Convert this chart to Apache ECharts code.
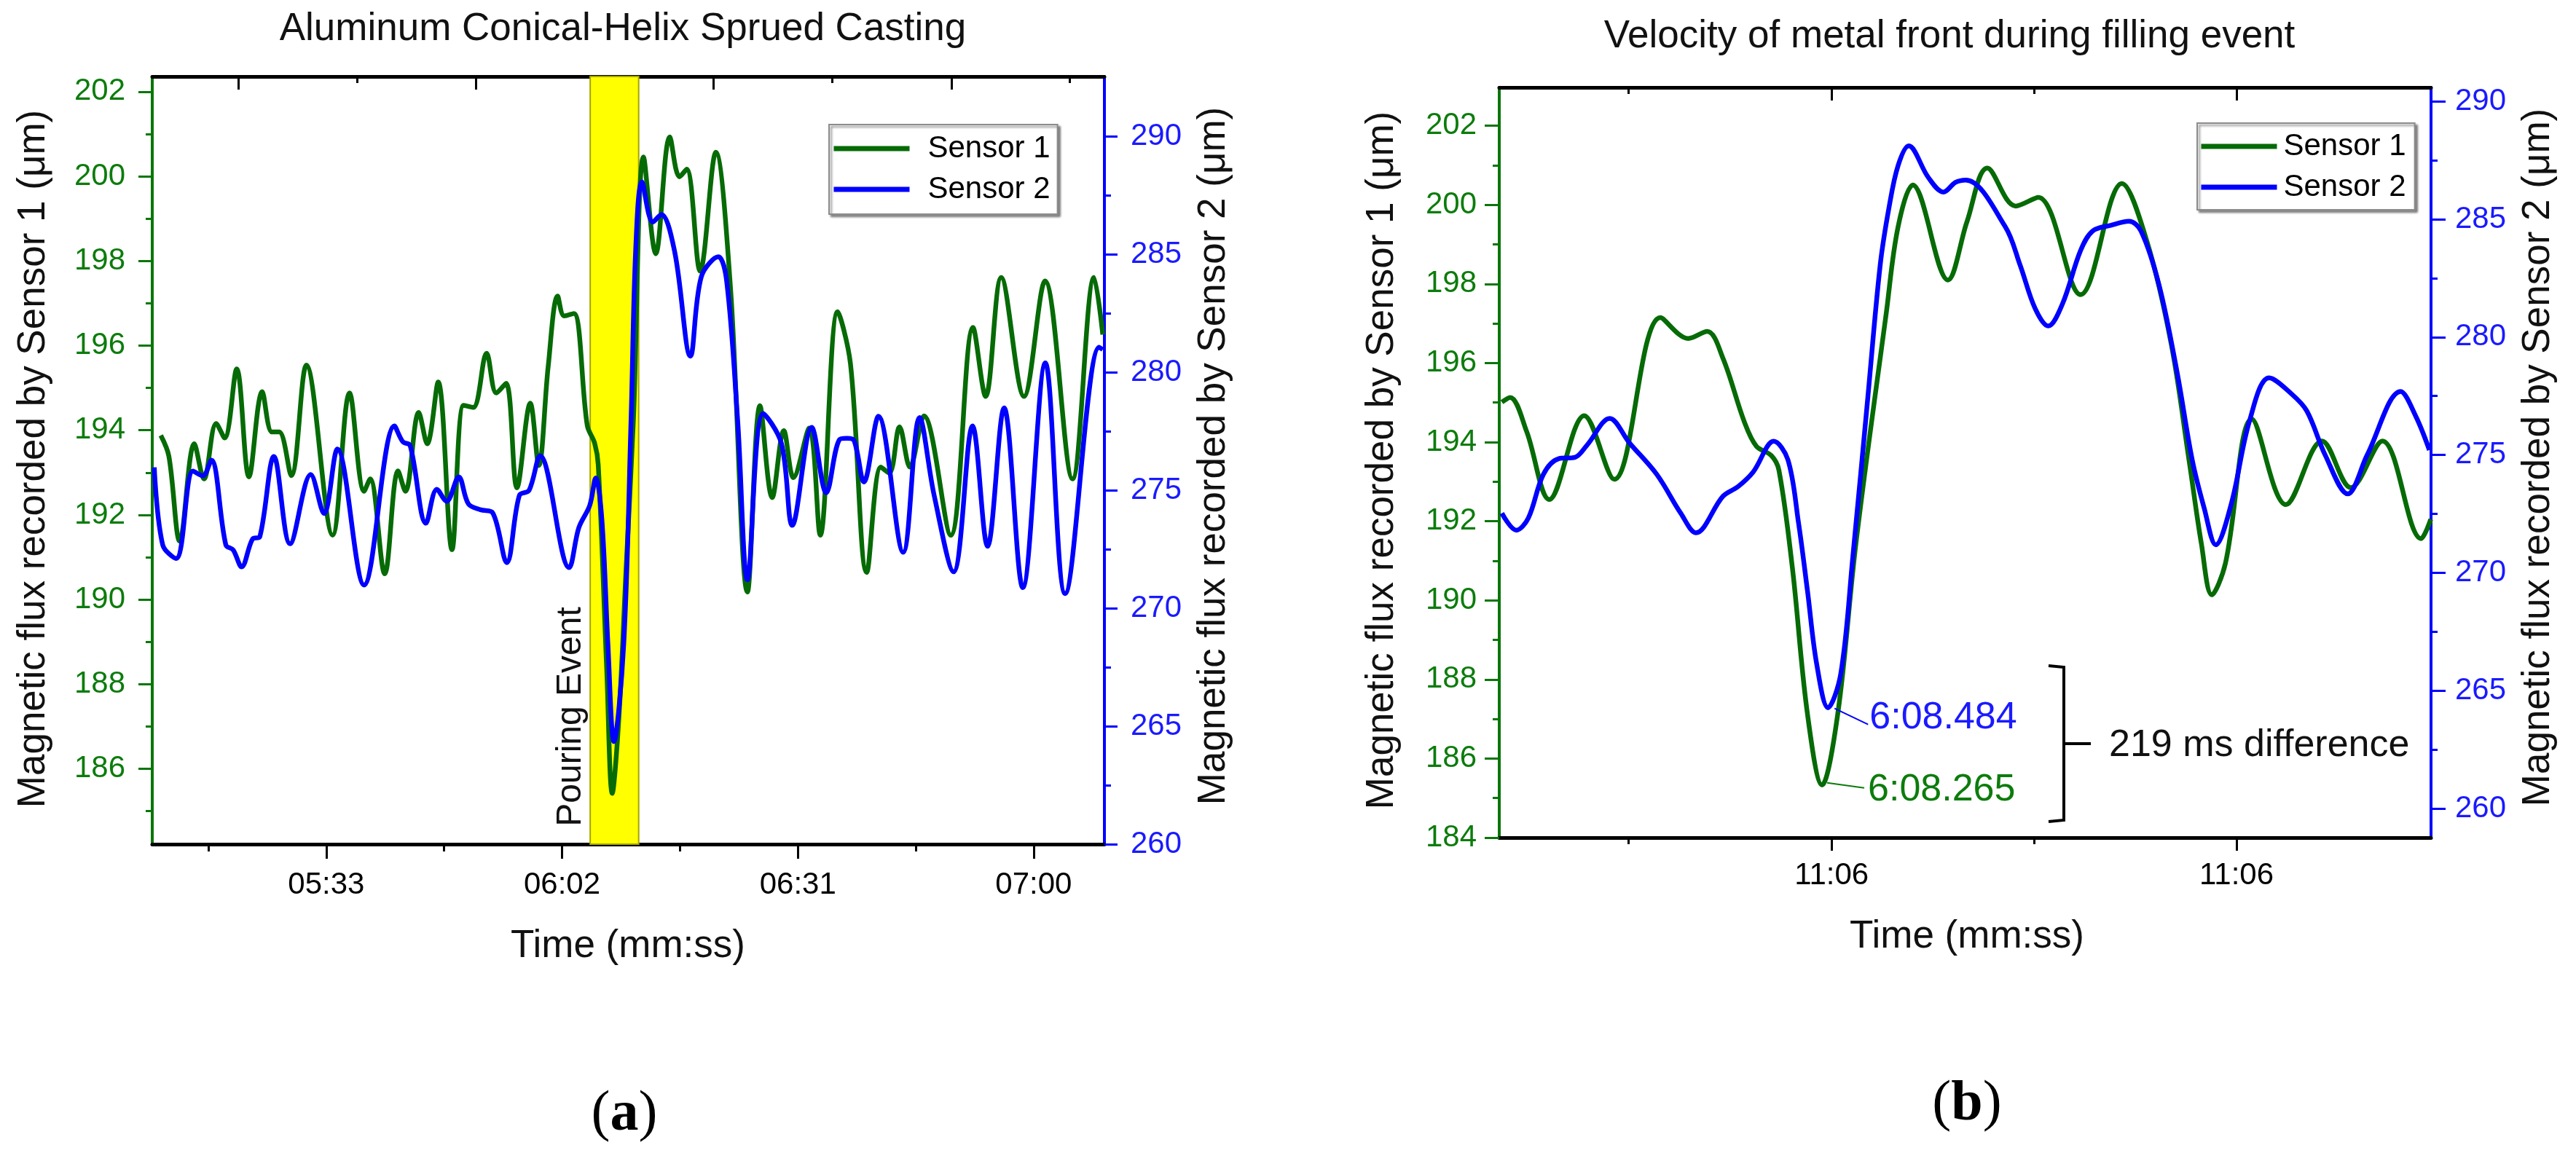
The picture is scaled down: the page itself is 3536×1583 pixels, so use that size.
<!DOCTYPE html>
<html><head><meta charset="utf-8">
<script src="https://cdn.jsdelivr.net/npm/echarts@6/dist/echarts.min.js"></script>
<style>html,body{margin:0;padding:0;background:#fff}#c{width:3536px;height:1583px}</style>
</head><body><div id="c"></div>
<script>
// ---------- DATA ----------
// (a) Sensor 1 (green, left axis), time in seconds
const timeA1 = [312.65,313.64,314.98,316.77,317.96,319.46,320.50,321.99,323.49,325.12,326.31,327.21,328.70,330.56,333.78,335.86,337.65,338.40,340.19,341.83,342.73,344.37,345.41,346.76,348.46,349.89,351.08,352.72,353.92,355.11,356.45,358.09,359.14,360.30,361.46,362.27,363.46,365.10,366.00,366.45,367.49,368.17,368.98,369.87,370.77,372.02,373.52,375.25,376.44,377.33,378.98,380.91,382.70,384.80,386.34,387.84,389.27,390.46,392.40,393.75,395.89,397.47,399.47,401.20,402.25,403.50,404.78,406.51,409.80,412.54,414.09,416.01,418.81,421.40,424.77,427.43,428.50];
const sensor1A = [193.88,193.39,191.38,193.68,192.85,194.16,193.82,195.45,192.90,194.91,193.96,193.96,192.93,195.54,191.52,194.88,192.56,192.85,190.61,193.04,192.56,194.42,193.68,195.14,191.18,194.59,194.54,195.82,194.88,195.11,192.64,194.64,193.17,195.52,197.17,196.70,196.76,194.11,193.70,193.18,188.36,185.42,187.19,190.71,194.23,200.46,198.17,200.93,199.99,200.17,197.76,200.57,197.40,190.18,194.58,192.41,193.99,192.88,194.05,191.52,196.80,195.57,190.64,193.13,192.99,194.08,193.13,194.34,191.52,196.43,194.80,197.61,194.80,197.53,192.85,197.61,196.26];
// (a) Sensor 2 (blue, right axis)
const timeA2 = [311.85,312.89,314.54,316.62,317.81,318.86,320.65,321.54,322.59,323.93,324.83,326.56,328.55,331.09,332.73,334.37,337.65,341.39,342.42,343.32,345.26,346.60,347.80,349.29,350.48,351.98,353.47,355.20,356.75,357.94,359.29,362.87,364.06,365.40,366.14,366.90,367.64,368.38,369.58,370.48,371.07,371.82,373.16,374.20,375.85,377.78,379.12,381.22,382.25,383.60,384.80,386.73,388.97,390.31,392.70,394.49,396.13,397.02,397.92,399.12,400.91,403.95,405.97,407.76,410.15,412.48,414.33,416.36,418.66,421.43,423.87,428.05,428.50];
const sensor2A = [275.97,272.68,272.11,275.81,275.61,276.27,272.68,272.47,271.75,272.93,273.03,276.43,272.73,275.66,274.01,276.74,270.98,277.72,277.05,276.89,273.60,275.04,274.53,275.56,274.42,274.17,274.04,271.93,274.78,274.99,276.46,271.72,273.41,274.35,275.52,273.73,268.46,264.35,268.46,277.93,285.31,288.06,286.36,286.68,285.10,280.68,284.04,284.89,283.84,277.93,271.20,278.25,276.99,273.51,277.66,274.89,277.15,277.20,277.10,275.35,278.13,272.37,278.08,274.78,271.54,277.72,272.62,278.49,270.87,280.39,270.62,281.06,280.96];
// (b) Sensor 1
const timeB1 = [354.70,355.05,355.75,356.71,358.19,359.46,361.42,362.60,363.40,364.07,364.97,365.48,366.12,366.44,367.01,367.65,368.265,368.93,369.70,370.98,371.49,372.11,373.60,374.41,375.27,376.47,377.43,379.22,380.97,382.03,383.06,383.82,384.34,384.78,385.36,386.48,387.92,389.45,390.67,392.01,393.65,394.06];
const sensor1B = [195.01,195.13,194.27,192.55,194.67,193.06,197.15,196.62,196.80,196.12,194.52,193.90,193.66,193.29,190.82,187.12,185.33,187.12,191.43,197.23,199.45,200.50,198.10,199.58,200.93,199.97,200.19,197.73,200.54,199.08,196.49,193.53,191.43,190.14,190.94,194.58,192.42,194.03,192.85,194.03,191.56,192.05];
// (b) Sensor 2
const timeB2 = [354.70,355.31,355.82,356.46,357.10,357.80,358.31,359.27,360.10,361.26,362.28,362.92,364.07,364.71,365.35,366.22,366.82,367.27,367.65,368.04,368.52,369.06,369.57,370.21,370.73,371.11,371.49,371.94,372.77,373.41,373.92,374.36,376.02,376.66,377.30,377.85,378.45,379.22,379.73,380.50,381.27,381.78,382.54,383.31,383.95,384.46,384.95,385.61,386.38,387.21,388.17,388.81,389.58,390.54,391.37,392.78,393.42,394.00];
const sensor2B = [272.53,271.81,272.32,274.18,274.84,274.90,275.42,276.55,275.52,274.18,272.53,271.70,273.25,273.66,274.28,275.58,274.80,272.12,269.23,266.13,264.28,265.72,270.67,277.48,283.05,285.53,287.28,288.11,286.77,286.15,286.56,286.66,284.70,283.05,281.20,280.47,281.40,283.67,284.50,284.74,284.91,284.50,282.23,278.51,274.80,272.74,271.19,272.94,276.45,278.27,277.58,276.86,275.01,273.35,275.01,277.69,276.65,275.21];

const pourEvent = [365.46, 371.42];
// tick values / labels
const xTicksA = [333, 362, 391, 420];
const xTickLabelsA = ['05:33', '06:02', '06:31', '07:00'];
const xMinorA = [318.5, 347.5, 376.5, 405.5];
const xTopTicksA = [322.2, 351.4, 380.6, 409.9];
const xTopMinorA = [336.8, 366.0, 395.2, 424.4];
const xTicksB = [368.67, 385.83];
const xTickLabelsB = ['11:06', '11:06'];
const xMinorB = [360.06, 377.25];
const y1TicksA = [186, 188, 190, 192, 194, 196, 198, 200, 202];
const y1MinorA = [185, 187, 189, 191, 193, 195, 197, 199, 201];
const y2TicksA = [260, 265, 270, 275, 280, 285, 290];
const y2MinorA = [262.5, 267.5, 272.5, 277.5, 282.5, 287.5];
const y1TicksB = [184, 186, 188, 190, 192, 194, 196, 198, 200, 202];
const y1MinorB = [185, 187, 189, 191, 193, 195, 197, 199, 201];
const y2TicksB = [260, 265, 270, 275, 280, 285, 290];
const y2MinorB = [262.5, 267.5, 272.5, 277.5, 282.5, 287.5];
const seriesNames = ['Sensor 1', 'Sensor 2'];
const annotB = ['6:08.265', '6:08.484', '219 ms difference'];

// ---------- STYLE ----------
const FONT = '"Liberation Sans", Arial, Helvetica, sans-serif';
const GREEN_LINE = '#066b06', GREEN_AXIS = '#0a760a', GREEN_TXT = '#0c7c0c';
const BLUE_LINE = '#0000ff', BLUE_TXT = '#1a1aff';

function pairs(xs, ys) { return xs.map((x, i) => [x, ys[i]]); }
function fmtFrom(ticks, labels) {
  return v => { const i = ticks.findIndex(t => Math.abs(t - v) < 1e-6); return i >= 0 ? labels[i] : ''; };
}
function mkX(grid, pos, min, max, ticks, len, inside, showLine, labels, margin) {
  return {
    type: 'value', gridIndex: grid, position: pos, min: min, max: max,
    splitLine: { show: false }, minorTick: { show: false },
    axisLine: { show: showLine, onZero: false, lineStyle: { color: '#000', width: 5 } },
    axisTick: { show: true, inside: inside, length: len, customValues: ticks, lineStyle: { color: '#000', width: 3 } },
    axisLabel: labels ? { show: true, customValues: ticks, formatter: fmtFrom(ticks, labels), margin: margin,
      fontSize: 42, fontFamily: FONT, color: '#000' } : { show: false }
  };
}
function mkY(grid, pos, min, max, ticks, len, color, showLine, labelColor, margin) {
  return {
    type: 'value', gridIndex: grid, position: pos, min: min, max: max,
    splitLine: { show: false }, minorTick: { show: false },
    axisLine: { show: showLine, onZero: false, lineStyle: { color: color, width: 4 } },
    axisTick: { show: true, inside: false, length: len, customValues: ticks, lineStyle: { color: color, width: 3 } },
    axisLabel: labelColor ? { show: true, customValues: ticks, margin: margin, fontSize: 42, fontFamily: FONT, color: labelColor } : { show: false }
  };
}
function legendAt(left, top, pad, txtPad) {
  return {
    left: left, top: top, orient: 'vertical', data: seriesNames, selectedMode: false,
    itemWidth: 104, itemHeight: 40, itemGap: 14, padding: pad,
    backgroundColor: '#fff', borderColor: '#8c8c8c', borderWidth: 2, borderRadius: 0,
    shadowColor: 'rgba(0,0,0,0.45)', shadowBlur: 3, shadowOffsetX: 3, shadowOffsetY: 3,
    itemStyle: { opacity: 0, borderWidth: 0 },
    lineStyle: { width: 7, opacity: 1 },
    textStyle: { fontSize: 42, fontFamily: FONT, color: '#000', padding: [0, 0, 0, txtPad] }
  };
}
function lineSeries(name, xi, yi, data, color, extra) {
  return Object.assign({
    name: name, type: 'line', xAxisIndex: xi, yAxisIndex: yi, data: data,
    smooth: 0.35, symbol: 'none', showSymbol: false,
    lineStyle: { color: color, width: 6.5 }, itemStyle: { color: color }, z: 3
  }, extra || {});
}

const chart = echarts.init(document.getElementById('c'));
const option = {
  animation: false,
  backgroundColor: '#fff',
  grid: [
    { left: 209, top: 105, width: 1307, height: 1054, containLabel: false },
    { left: 2058, top: 120, width: 1279, height: 1030, containLabel: false }
  ],
  xAxis: [
    mkX(0, 'bottom', 311.6, 428.7, xTicksA, 20, false, true, xTickLabelsA, 35),
    mkX(0, 'bottom', 311.6, 428.7, xMinorA, 10, false, false, null, 0),
    mkX(0, 'top', 311.6, 428.7, xTopTicksA, 18, true, true, null, 0),
    mkX(0, 'top', 311.6, 428.7, xTopMinorA, 9, true, false, null, 0),
    mkX(1, 'bottom', 354.59, 394.07, xTicksB, 18, false, true, xTickLabelsB, 31),
    mkX(1, 'bottom', 354.59, 394.07, xMinorB, 9, false, false, null, 0),
    mkX(1, 'top', 354.59, 394.07, xTicksB, 18, true, true, null, 0),
    mkX(1, 'top', 354.59, 394.07, xMinorB, 9, true, false, null, 0)
  ],
  yAxis: [
    mkY(0, 'left', 184.22, 202.36, y1TicksA, 19, GREEN_AXIS, true, GREEN_TXT, 37),
    mkY(0, 'left', 184.22, 202.36, y1MinorA, 9, GREEN_AXIS, false, null, 0),
    mkY(0, 'right', 260, 292.53, y2TicksA, 18, BLUE_LINE, true, BLUE_TXT, 36),
    mkY(0, 'right', 260, 292.53, y2MinorA, 9, BLUE_LINE, false, null, 0),
    mkY(1, 'left', 184, 202.97, y1TicksB, 20, GREEN_AXIS, true, GREEN_TXT, 31),
    mkY(1, 'left', 184, 202.97, y1MinorB, 9, GREEN_AXIS, false, null, 0),
    mkY(1, 'right', 258.77, 290.59, y2TicksB, 20, BLUE_LINE, true, BLUE_TXT, 33),
    mkY(1, 'right', 258.77, 290.59, y2MinorB, 9, BLUE_LINE, false, null, 0)
  ],
  legend: [
    legendAt(1138, 171, [12, 10, 13, 3], 20),
    legendAt(3016, 169, [11, 12, 10, 2], 4)
  ],
  series: [
    lineSeries(seriesNames[0], 0, 0, pairs(timeA1, sensor1A), GREEN_LINE, {
      markArea: { silent: true, z: 1,
        itemStyle: { color: '#ffff00', borderColor: '#a5a500', borderWidth: 2 },
        data: [[{ xAxis: pourEvent[0] }, { xAxis: pourEvent[1] }]] }
    }),
    lineSeries(seriesNames[1], 0, 2, pairs(timeA2, sensor2A), BLUE_LINE),
    lineSeries(seriesNames[0], 4, 4, pairs(timeB1, sensor1B), GREEN_LINE),
    lineSeries(seriesNames[1], 4, 6, pairs(timeB2, sensor2B), BLUE_LINE)
  ]
};
chart.setOption(option);

// ---------- ANNOTATIONS ----------
function txt(x, y, text, size, color, rot, extra) {
  return { type: 'text', x: x, y: y, rotation: rot || 0, z: 100, silent: true,
    style: Object.assign({ text: text, font: size + 'px ' + FONT, fill: color, align: 'center', verticalAlign: 'middle' }, extra || {}) };
}
const gMin = sensor1B.indexOf(Math.min.apply(null, sensor1B));
const bMin = sensor2B.indexOf(Math.min.apply(null, sensor2B));
const pG = chart.convertToPixel({ xAxisIndex: 4, yAxisIndex: 4 }, [timeB1[gMin], sensor1B[gMin]]);
const pB = chart.convertToPixel({ xAxisIndex: 4, yAxisIndex: 6 }, [timeB2[bMin], sensor2B[bMin]]);
const bandL = chart.convertToPixel({ xAxisIndex: 0, yAxisIndex: 0 }, [pourEvent[0], 190]);
const R = Math.PI / 2;
const SERIF = '"Liberation Serif", "Times New Roman", serif';
function panelLabel(x, y, letter) {
  return { type: 'text', x: x, y: y, z: 100, silent: true,
    style: { text: '{p|(}{b|' + letter + '}{p|)}', align: 'center', verticalAlign: 'middle',
      rich: { p: { fontSize: 78, fontFamily: SERIF, fill: '#000' },
              b: { fontSize: 78, fontWeight: 'bold', fontFamily: SERIF, fill: '#000' } } } };
}
const graphics = [
  txt(855, 40, 'Aluminum Conical-Helix Sprued Casting', 53, '#111'),
  txt(2676, 50, 'Velocity of metal front during filling event', 53, '#111'),
  txt(46, 630, 'Magnetic flux recorded by Sensor 1 (μm)', 53, '#111', R),
  txt(1666, 626, 'Magnetic flux recorded by Sensor 2 (μm)', 53, '#111', R),
  txt(862, 1299, 'Time (mm:ss)', 53, '#111'),
  txt(1897, 632, 'Magnetic flux recorded by Sensor 1 (μm)', 53, '#111', R),
  txt(3484, 628, 'Magnetic flux recorded by Sensor 2 (μm)', 53, '#111', R),
  txt(2700, 1286, 'Time (mm:ss)', 53, '#111'),
  txt(bandL[0] - 26, 984, 'Pouring Event', 48, '#111', R),
  panelLabel(857, 1531, 'a'),
  panelLabel(2700, 1517, 'b'),
  // leader lines
  { type: 'line', z: 100, silent: true, shape: { x1: pG[0] + 7, y1: pG[1] - 3, x2: pG[0] + 58, y2: pG[1] + 4 },
    style: { stroke: GREEN_TXT, lineWidth: 2 } },
  { type: 'line', z: 100, silent: true, shape: { x1: pB[0] + 9, y1: pB[1] + 1, x2: pB[0] + 55, y2: pB[1] + 23 },
    style: { stroke: BLUE_LINE, lineWidth: 2 } },
  txt(pG[0] + 63, pG[1] + 7, annotB[0], 52, GREEN_TXT, 0, { align: 'left' }),
  txt(pB[0] + 57, pB[1] + 14, annotB[1], 52, BLUE_TXT, 0, { align: 'left' }),
  // bracket
  { type: 'polyline', z: 100, silent: true, shape: { points: [[2812, 914], [2833, 916], [2833, 1126], [2812, 1128]] },
    style: { stroke: '#000', lineWidth: 4, fill: null } },
  { type: 'line', z: 100, silent: true, shape: { x1: 2833, y1: 1021, x2: 2870, y2: 1021 },
    style: { stroke: '#000', lineWidth: 4 } },
  txt(2895, 1024, annotB[2], 52, '#111', 0, { align: 'left' })
];
chart.setOption({ graphic: graphics });
</script>
</body></html>
